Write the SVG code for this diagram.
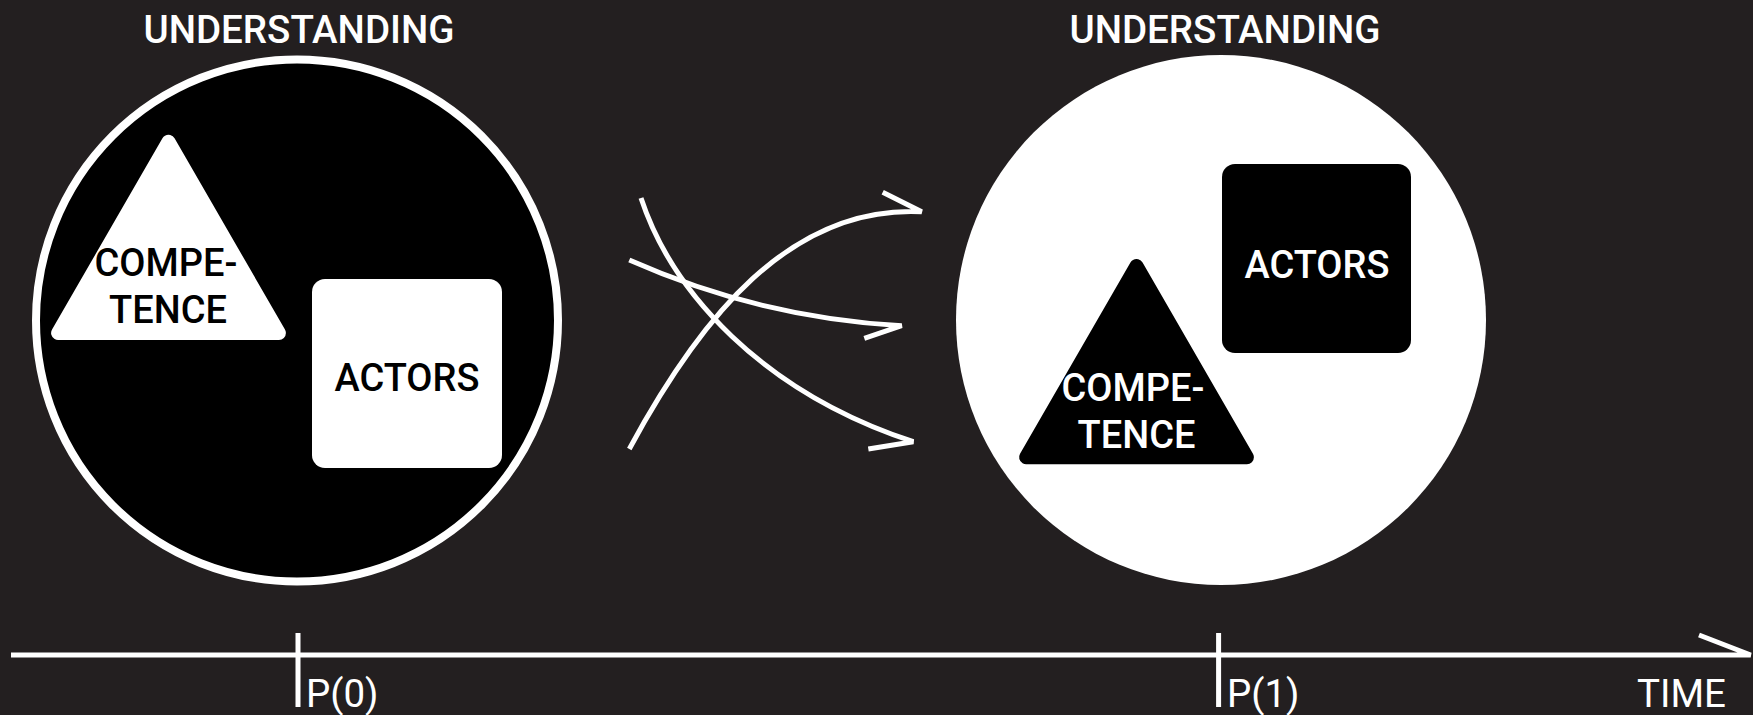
<svg xmlns="http://www.w3.org/2000/svg" width="1753" height="715" viewBox="0 0 1753 715">
<style>
.lbl{font-family:Roboto,"Liberation Sans",sans-serif;font-weight:500;font-size:38px;text-anchor:middle}
.ttl{font-size:38.5px}
.axis{font-family:Roboto,"Liberation Sans",sans-serif;font-weight:400;font-size:38.5px;fill:#fff}
.w{fill:#fff}
.b{fill:#000}
.conn{fill:none;stroke:#fff;stroke-width:5;stroke-linejoin:miter;stroke-miterlimit:3;stroke-linecap:butt}
.tri-w{fill:#fff;stroke:#fff;stroke-width:14;stroke-linejoin:round}
.tri-b{fill:#000;stroke:#000;stroke-width:14;stroke-linejoin:round}
</style>
<rect width="1753" height="715" fill="#231f20"/>
<g id="title-left"><text class="lbl ttl w" x="299" y="42.7">UNDERSTANDING</text></g>
<g id="title-right"><text class="lbl ttl w" x="1225" y="42.7">UNDERSTANDING</text></g>
<g id="circle-left"><circle cx="297" cy="320.5" r="261" fill="#000" stroke="#fff" stroke-width="8"/></g>
<g id="competence-left">
<polygon class="tri-w" points="168.5,141.8 58.1,333 278.9,333"/>
<text class="lbl b" x="166" y="275.5">COMPE-</text>
<text class="lbl b" x="168" y="323">TENCE</text>
</g>
<g id="actors-left">
<rect x="312" y="279" width="190" height="189" rx="13" fill="#fff"/>
<text class="lbl b" x="407" y="391">ACTORS</text>
</g>
<g id="circle-right"><circle cx="1221" cy="320" r="265" fill="#fff"/></g>
<g id="actors-right">
<rect x="1222" y="164" width="189" height="189" rx="13" fill="#000"/>
<text class="lbl w" x="1317" y="277.7">ACTORS</text>
</g>
<g id="competence-right">
<polygon class="tri-b" points="1136.5,266.1 1026.1,457.3 1246.9,457.3"/>
<text class="lbl w" x="1133" y="400.7">COMPE-</text>
<text class="lbl w" x="1136.5" y="448.3">TENCE</text>
</g>
<g id="connectors">
<path class="conn" d="M641,198 C672,292 762,392 913.3,441.7 L868.3,449"/>
<path class="conn" d="M629.3,260 Q760,318 901.7,325.7 L864.3,338.3"/>
<path class="conn" d="M629.3,449 C700,318 790,205 921.7,211.7 L882.7,192.3"/>
<path class="conn" stroke-width="6" d="M11,655 L1750.7,655 L1699,635"/>
<path class="conn" stroke-width="5.7" d="M298,633 V707 M1218.6,633 V707"/>
</g>
<g id="axis-labels">
<text class="axis" x="306" y="707">P(0)</text>
<text class="axis" x="1227" y="707">P(1)</text>
<text class="axis" x="1726" y="707" text-anchor="end">TIME</text>
</g>
</svg>
